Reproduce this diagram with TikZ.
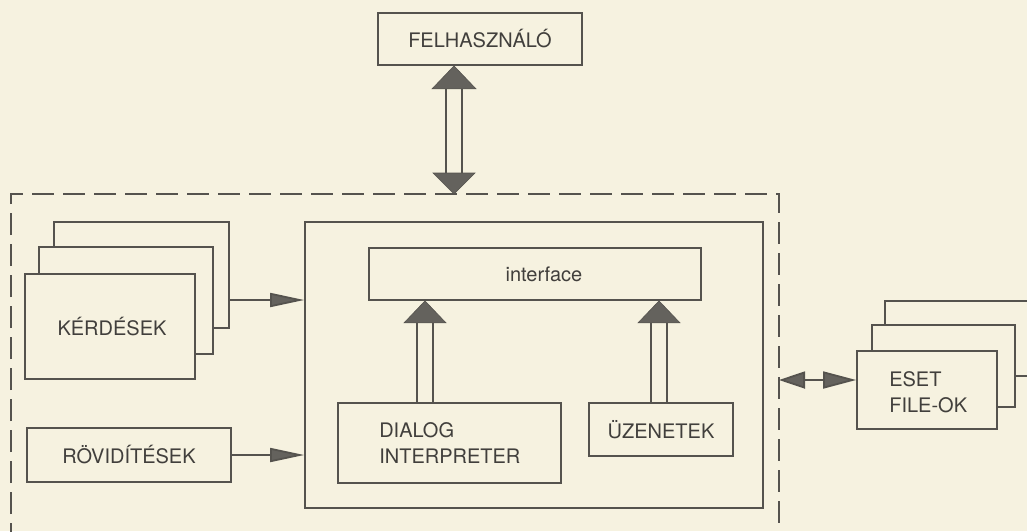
\documentclass[tikz,border=0pt]{standalone}
\usepackage{fontspec}
\setmainfont{TeX Gyre Heros}
\usetikzlibrary{arrows.meta,calc}
\definecolor{paper}{RGB}{246,242,224}
\definecolor{ink}{RGB}{85,83,78}
\definecolor{headfill}{RGB}{100,98,93}
\definecolor{txt}{RGB}{65,63,60}
\tikzset{
  box/.style={draw=ink, line width=1.8pt, fill=paper, inner sep=0pt, text=txt,
    font=\fontsize{20}{26}\selectfont},
  plain/.style={inner sep=0pt, text=txt, font=\fontsize{20}{26}\selectfont, align=left},
  frame/.style={draw=ink, line width=1.5pt, dash pattern=on 22pt off 9pt},
  conn/.style={draw=ink, line width=1.8pt, -{Triangle[length=34pt,width=14pt,fill=headfill]}},
  biconn/.style={draw=ink, line width=1.8pt,
    {Triangle[length=26pt,width=17pt,fill=headfill]}-{Triangle[length=33pt,width=17pt,fill=headfill]}},
  hollow/.style={draw=ink, line width=1.8pt, double=paper, double distance=14pt},
  headtri/.style={fill=headfill, draw=ink, line width=0.6pt},
}
\begin{document}
\begin{tikzpicture}[x=1pt,y=-1pt]
\fill[paper] (0,0) rectangle (1027,531);
\useasboundingbox (0,0) rectangle (1027,531);
\clip (0,0) rectangle (1027,531);

% user
\node[box, minimum width=204, minimum height=52] (felh) at (480,39) {FELHASZNÁLÓ};

% dashed frame
\coordinate (fbl) at (11,545);
\coordinate (ftl) at (11,194);
\coordinate (ftr) at (779,194);
\coordinate (fbr) at (779,545);
\draw[frame] (fbl) -- (ftl) -- (ftr) -- (fbr);

% KERDESEK stack
\node[box, minimum width=175, minimum height=106] (kback) at (141.5,275) {};
\node[box, minimum width=174, minimum height=107] (kmid) at (126,300.5) {};
\node[box, minimum width=170, minimum height=105] (kerd) at (110,326.5) {\hspace*{4pt}KÉRDÉSEK};

% ROVIDITESEK
\node[box, minimum width=204, minimum height=54] (rov) at (129,455) {RÖVIDÍTÉSEK};

% main box
\node[box, minimum width=458, minimum height=286] (main) at (534,365) {};
\node[box, minimum width=332, minimum height=52] (iface) at (535,274) {\hspace*{18pt}interface};
\node[box, minimum width=223, minimum height=80] (dialog) at (449.5,443) {};
\node[plain, anchor=west] (dialogtxt) at ($(dialog.west)+(42,0)$) {DIALOG\\INTERPRETER};
\node[box, minimum width=144, minimum height=53] (uzen) at (661,429.5) {ÜZENETEK};

% ESET stack
\node[box, minimum width=175, minimum height=75] (eback) at (972.5,338.5) {};
\node[box, minimum width=143, minimum height=82] (emid) at (943.5,366) {};
\node[box, minimum width=140, minimum height=78] (eset) at (927,390) {};
\node[plain, anchor=west] (esettxt) at ($(eset.west)+(33,2)$) {ESET\\FILE-OK};

% connectors
\coordinate (ky) at (0,300);
\draw[conn] (kback.east |- ky) -- (main.west |- ky);
\draw[conn] (rov.east) -- (main.west |- rov.east);
\coordinate (ey) at (0,380);
\draw[biconn] (ftr |- ey) -- (eset.west |- ey);

% hollow double arrow user <-> system
\coordinate (ux) at (454,0);
\coordinate (utop) at (felh.south -| ux);
\coordinate (ubot) at (ftl -| ux);
\draw[hollow] ($(utop)+(0,22)$) -- ($(ubot)+(0,-20)$);
\filldraw[headtri] (utop) -- ++(-22,23) -- ++(44,0) -- cycle;
\filldraw[headtri] (ubot) -- ++(-21,-21) -- ++(42,0) -- cycle;

% hollow arrows to interface
\coordinate (dx) at (425,0);
\coordinate (zx) at (659,0);
\draw[hollow] (dialog.north -| dx) -- ($(iface.south -| dx)+(0,21)$);
\filldraw[headtri] (iface.south -| dx) -- ++(-21,22) -- ++(42,0) -- cycle;
\draw[hollow] (uzen.north -| zx) -- ($(iface.south -| zx)+(0,21)$);
\filldraw[headtri] (iface.south -| zx) -- ++(-21,22) -- ++(42,0) -- cycle;
\end{tikzpicture}
\end{document}
